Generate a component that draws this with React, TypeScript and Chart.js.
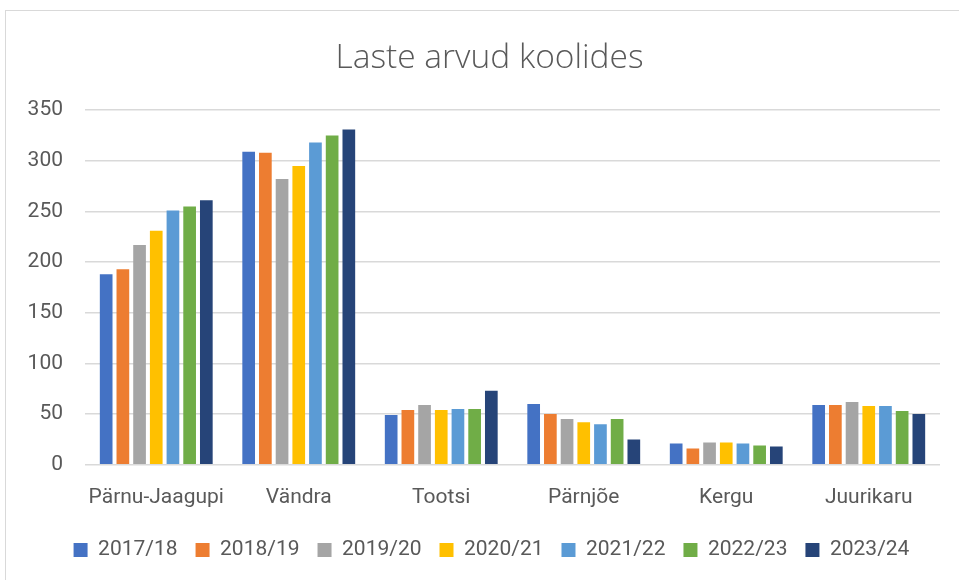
import React, { useEffect, useRef } from "react";
import { Chart, registerables } from "chart.js";

Chart.register(...registerables);

const title = "Laste arvud koolides";
const schools = ["Pärnu-Jaagupi", "Vändra", "Tootsi", "Pärnjõe", "Kergu", "Juurikaru"];
const years = ["2017/18", "2018/19", "2019/20", "2020/21", "2021/22", "2022/23", "2023/24"];
const y2017 = [188, 309, 49, 60, 21, 59];
const y2018 = [193, 308, 54, 50, 16, 59];
const y2019 = [217, 282, 59, 45, 22, 62];
const y2020 = [231, 295, 54, 42, 22, 58];
const y2021 = [251, 318, 55, 40, 21, 58];
const y2022 = [255, 325, 55, 45, 19, 53];
const y2023 = [261, 331, 73, 25, 18, 50];
const seriesValues = [y2017, y2018, y2019, y2020, y2021, y2022, y2023];
const colors = ["#4472C4", "#ED7D31", "#A5A5A5", "#FFC000", "#5B9BD5", "#70AD47", "#264478"];
const yMin = 0;
const yMax = 350;
const yStep = 50;

const labelFont = "Roboto, sans-serif";
const textColor = "#595959";

// shifts the centred title / legend boxes so they are centred like the original
const shiftBoxes = {
  id: "shiftBoxes",
  afterLayout(chart: any) {
    const lg = chart.legend;
    if (lg) { lg.left += 7.5; lg.right += 7.5; }
    const tt = chart.titleBlock;
    if (tt) { tt.left += 5.5; tt.right += 5.5; }
  },
};

export default function App() {
  const ref = useRef<HTMLCanvasElement | null>(null);
  useEffect(() => {
    if (!ref.current) return;
    const chart = new Chart(ref.current, {
      type: "bar",
      data: {
        labels: schools,
        datasets: years.map((y, i) => ({
          label: y,
          data: seriesValues[i],
          backgroundColor: colors[i],
          borderWidth: 0,
          barPercentage: 0.76,
          categoryPercentage: 0.82,
        })),
      },
      plugins: [shiftBoxes],
      options: {
        animation: false,
        responsive: false,
        maintainAspectRatio: false,
        layout: { autoPadding: false, padding: { left: 28, right: 19, top: 0, bottom: 9.5 } },
        plugins: {
          title: {
            display: true,
            text: title,
            color: textColor,
            font: { family: "'Open Sans', sans-serif", size: 33.5, weight: "300" as any },
            padding: { top: 38, bottom: 32 },
          },
          legend: {
            display: true,
            position: "bottom",
            labels: {
              color: textColor,
              font: { family: labelFont, size: 21 },
              boxWidth: 14,
              boxHeight: 14,
              padding: 18,
            },
          },
          tooltip: { enabled: false },
        },
        scales: {
          x: {
            grid: { display: false, drawTicks: false },
            border: { display: false },
            ticks: { color: textColor, font: { family: labelFont, size: 21 }, padding: 20, maxRotation: 0, autoSkip: false },
            afterFit: (scale: any) => { scale.height = 56.8; },
          },
          y: {
            min: yMin,
            max: yMax,
            grid: { color: "#d9d9d9", lineWidth: 1.5, drawTicks: false },
            border: { display: false },
            ticks: { stepSize: yStep, color: textColor, font: { family: labelFont, size: 21 }, padding: 22 },
            afterFit: (scale: any) => { scale.width = 57; },
          },
        },
      },
    });
    return () => chart.destroy();
  }, []);
  return (
    <div style={{ position: "absolute", left: 0, top: 0, width: 959, height: 580, background: "#fff", overflow: "hidden" }}>
      <div style={{ position: "absolute", left: 5, top: 10, width: 1000, height: 1000, borderLeft: "1px solid #d9d9d9", borderTop: "1px solid #d9d9d9" }} />
      <canvas ref={ref} width={959} height={580} style={{ position: "absolute", left: 0, top: 0 }} />
    </div>
  );
}
